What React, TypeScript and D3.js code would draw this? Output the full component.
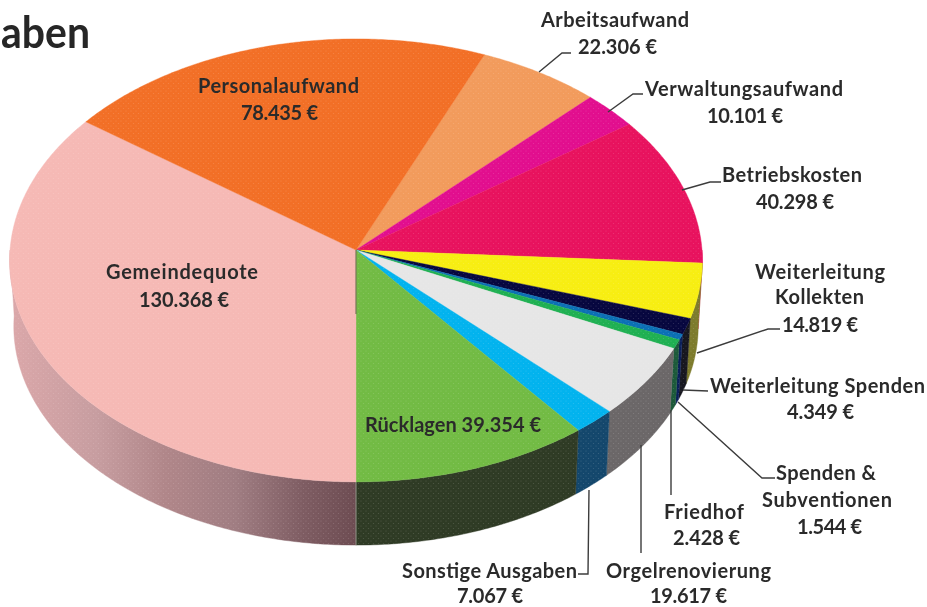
import React, { useEffect, useRef } from "react";
import * as d3 from "d3";

// ---- data, in drawing order, clockwise from the Arbeitsaufwand slice
const categories = [
  "Arbeitsaufwand", "Verwaltungsaufwand", "Betriebskosten", "Weiterleitung Kollekten",
  "Weiterleitung Spenden", "Spenden & Subventionen", "Friedhof", "Orgelrenovierung",
  "Sonstige Ausgaben", "Rücklagen", "Gemeindequote", "Personalaufwand",
];
const values = [22306, 10101, 40298, 14819, 4349, 1544, 2428, 19617, 7067, 39354, 130368, 78435];
const topColors = [
  "#f29b5c", "#e20e8e", "#e8125e", "#f7ee12", "#07073f", "#0b70b5",
  "#1fb052", "#e6e6e6", "#02b3ee", "#72bb44", "#f6b9b5", "#f26f26",
];
const sideColors = [
  "#f29b5c", "#e20e8e", "#e8125e", "#7d7b2c", "#17171f", "#0a1f5a",
  "#1c5a3a", "#6b6768", "#14476c", "#2f3b25", "url(#pinkSide)", "#f26f26",
];

const chartTitle = "aben";
// text lines: [text, left, right, baseline]
const labelLines: [string, number, number, number][] = [
  ["Arbeitsaufwand", 541, 689, 27], ["22.306 €", 578, 657, 54],
  ["Verwaltungsaufwand", 645, 843, 96], ["10.101 €", 707, 783, 123],
  ["Betriebskosten", 722, 862, 182], ["40.298 €", 756, 834, 209],
  ["Weiterleitung", 755, 885, 279], ["Kollekten", 775, 864, 304], ["14.819 €", 782, 858, 332],
  ["Weiterleitung Spenden", 710, 925, 393], ["4.349 €", 787, 854, 419],
  ["Spenden &", 776, 876, 480], ["Subventionen", 762, 892, 507], ["1.544 €", 797, 862, 534],
  ["Friedhof", 664, 744, 519], ["2.428 €", 673, 740, 545],
  ["Orgelrenovierung", 606, 771, 578], ["19.617 €", 650, 727, 603],
  ["Sonstige Ausgaben", 402, 577, 578], ["7.067 €", 457, 523, 603],
  ["Rücklagen 39.354 €", 365, 541, 432],
  ["Gemeindequote", 106, 258, 279], ["130.368 €", 139, 229, 307],
  ["Personalaufwand", 198, 359, 93], ["78.435 €", 241, 318, 120],
];
const leaders: [number, number][][] = [
  [[539, 72], [562, 53], [571, 53]],
  [[608, 112], [633, 94], [643, 94]],
  [[682, 190], [710, 182], [721, 182]],
  [[697, 353], [768, 329], [780, 329]],
  [[683, 390], [708, 391]],
  [[678, 402], [762, 478], [775, 478]],
  [[671, 410], [671, 495]],
  [[641, 445], [641, 553]],
  [[589, 490], [588, 574], [578, 574]],
];
const pinkStops: [number, string][] = [
  [0, "#dba7a9"], [0.25, "#c79da0"], [0.45, "#b08689"], [0.65, "#a07d82"], [0.85, "#7e5c62"], [1, "#6d4c52"],
];

const W = 927, H = 607;
const cx = 356, cy = 250, rx = 346, ry = 221, persp = 0.047, depth = 66, baseShrink = 0.988;

function project(a: number, d = 0): [number, number] {
  const s = Math.sin(a), c = Math.cos(a), w = 1 + persp * c;
  const f = d ? baseShrink : 1;
  return [cx + (rx * s * f) / w, cy - (ry * c * f) / w + d];
}
const samples = (a0: number, a1: number) => {
  const n = Math.max(2, Math.ceil(Math.abs(a1 - a0) / 0.01));
  return d3.range(n + 1).map((i) => a0 + ((a1 - a0) * i) / n);
};

export default function App() {
  const ref = useRef<SVGSVGElement>(null);
  useEffect(() => {
    const svg = d3.select(ref.current!);
    svg.selectAll("*").remove();
    const total = d3.sum(values);
    // Rücklagen must end exactly at the bottom of the pie
    const upTo = d3.sum(values.slice(0, 10));
    const start = Math.PI - (upTo / total) * 2 * Math.PI;
    const arcs = d3.pie<number>().sort(null).startAngle(start).endAngle(start + 2 * Math.PI)(values);
    const line = d3.line();

    const defs = svg.append("defs");
    const grad = defs.append("linearGradient")
      .attr("id", "pinkSide").attr("gradientUnits", "userSpaceOnUse")
      .attr("x1", cx - rx).attr("x2", cx).attr("y1", 0).attr("y2", 0);
    pinkStops.forEach(([o, c]) => grad.append("stop").attr("offset", o).attr("stop-color", c));
    // the print's fine halftone speckle
    const pat = defs.append("pattern").attr("id", "speckle").attr("patternUnits", "userSpaceOnUse")
      .attr("width", 5).attr("height", 5);
    pat.append("circle").attr("cx", 1).attr("cy", 1).attr("r", 0.6).attr("fill", "#fff").attr("fill-opacity", 0.16);
    pat.append("circle").attr("cx", 3.5).attr("cy", 3.5).attr("r", 0.6).attr("fill", "#fff").attr("fill-opacity", 0.16);
    defs.append("filter").attr("id", "soft").append("feGaussianBlur").attr("stdDeviation", 0.35);

    // outer walls: only the front half (90°..270°) is visible
    const sides = svg.append("g");
    arcs.forEach((d, i) => {
      const a0 = Math.max(d.startAngle, Math.PI / 2), a1 = Math.min(d.endAngle, 1.5 * Math.PI);
      if (a1 <= a0) return;
      const tops = samples(a0, a1).map((a) => project(a));
      const bots = samples(a1, a0).map((a) => project(a, depth));
      const p = line([...tops, ...bots]) + "Z";
      sides.append("path").attr("d", p)
        .attr("fill", sideColors[i]).attr("stroke", sideColors[i]).attr("stroke-width", 0.4);
      sides.append("path").attr("d", p).attr("fill", "url(#speckle)");
    });
    // light seam at the pie's bottom
    sides.append("line").attr("x1", cx).attr("x2", cx).attr("y1", project(Math.PI)[1]).attr("y2", project(Math.PI, depth)[1])
      .attr("stroke", "#9aa596").attr("stroke-width", 0.8);

    // top faces
    const tops = svg.append("g");
    arcs.forEach((d, i) => {
      const pts = [[cx, cy] as [number, number], ...samples(d.startAngle, d.endAngle).map((a) => project(a))];
      const p = line(pts) + "Z";
      tops.append("path").attr("d", p)
        .attr("fill", topColors[i]).attr("stroke", topColors[i]).attr("stroke-width", 0.4);
      tops.append("path").attr("d", p).attr("fill", "url(#speckle)");
    });
    // short dark wall line at the centre
    tops.append("line").attr("x1", cx).attr("x2", cx).attr("y1", cy).attr("y2", cy + depth - 2)
      .attr("stroke", "#5d6b45").attr("stroke-width", 1);

    // leaders
    svg.append("g").selectAll("path").data(leaders).join("path")
      .attr("d", (p) => line(p)).attr("fill", "none").attr("stroke", "#3c3c3c").attr("stroke-width", 1.4);

    // text
    const font = "Lato, 'Open Sans', sans-serif";
    svg.append("text").text(chartTitle).attr("x", 1).attr("y", 48).attr("textLength", 89).attr("lengthAdjust", "spacingAndGlyphs")
      .attr("font-family", font).attr("font-weight", 700).attr("font-size", 43).attr("fill", "#262626").attr("filter", "url(#soft)");
    svg.append("g").attr("filter", "url(#soft)").selectAll("text").data(labelLines).join("text")
      .text((d) => d[0]).attr("x", (d) => d[1]).attr("y", (d) => d[3])
      .attr("textLength", (d) => d[2] - d[1]).attr("lengthAdjust", "spacing")
      .attr("font-family", font).attr("font-weight", 700).attr("font-size", 20).attr("fill", "#2b2b2b");
  }, []);
  return <svg ref={ref} width={W} height={H} viewBox={`0 0 ${W} ${H}`} style={{ position: "absolute", left: 0, top: 0, display: "block" }} />;
}
